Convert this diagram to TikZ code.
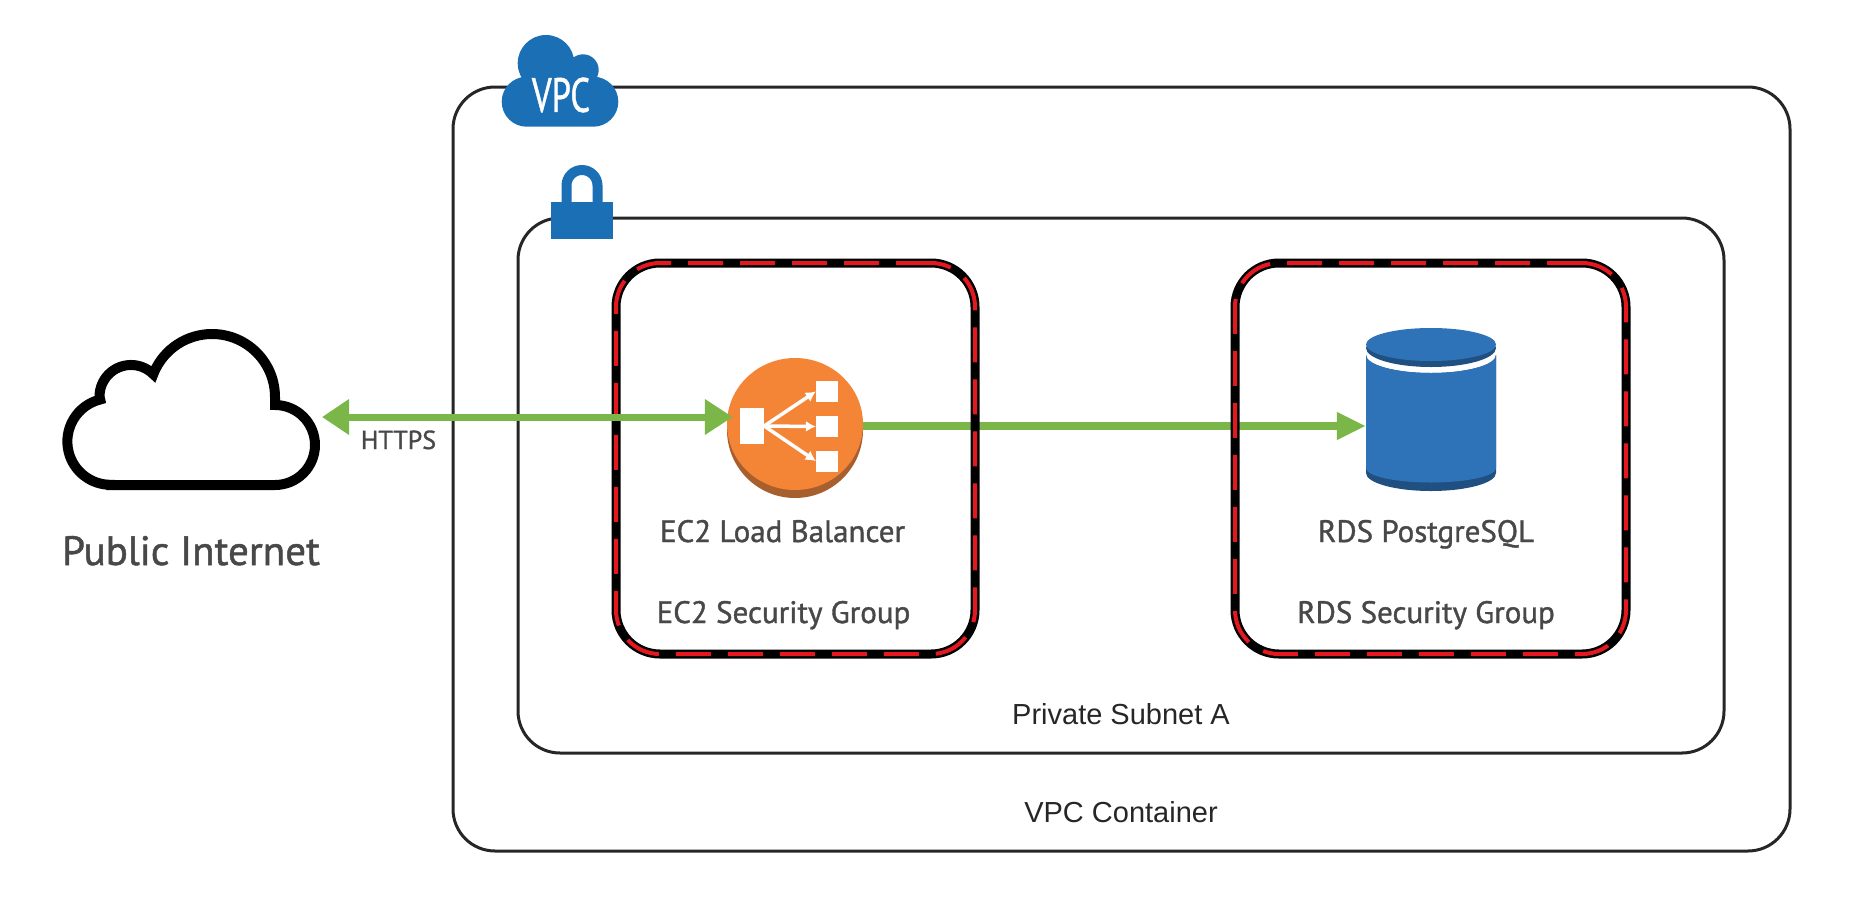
\documentclass[tikz,border=0pt]{standalone}
\usepackage{fontspec}
\setmainfont{Liberation Sans}
\newfontfamily\dinfont[FakeBold=1.2]{PT Sans}
\usepackage{xcolor}
\usetikzlibrary{arrows.meta}
\usetikzlibrary{positioning}
\definecolor{flowgreen}{HTML}{7AB648}
\definecolor{awsblue}{HTML}{1A6FB5}
\definecolor{dbblue}{HTML}{2E73B8}
\definecolor{dbdark}{HTML}{205081}
\definecolor{lborange}{HTML}{F58536}
\definecolor{lbbrown}{HTML}{A85F2E}
\definecolor{sgred}{HTML}{E3191F}
\definecolor{labelgray}{HTML}{484848}

\tikzset{
    regionbox/.style={draw=black!85, line width=3pt, rounded corners=42pt, inner sep=0pt},
    sgbox/.style={draw=black, line width=9pt, rounded corners=44pt, inner sep=0pt,
        postaction={draw=sgred, line width=4pt, dash pattern=on 35pt off 17pt}},
    flow/.style={draw=flowgreen, line width=7pt},
    iconbox/.style={fill=white, inner sep=0pt},
    iconarrow/.style={draw=white, line width=3.5pt, -{Latex[length=10pt,width=11pt]}},
    dinlabel/.style={font=\dinfont, text=labelgray, anchor=base, inner sep=0pt},
    plainlabel/.style={font=\fontsize{29}{29}\selectfont, text=black!85, anchor=base, inner sep=0pt},
}

\begin{document}
\begin{tikzpicture}[x=1pt, y=-1pt]
    \useasboundingbox (0,0) rectangle (1874,913);

    \node[regionbox, minimum width=1337pt, minimum height=764pt] (vpcbox) at (1121.5,469) {};
    \node[regionbox, minimum width=1206pt, minimum height=535pt] (subnetbox) at (1121,485.5) {};

    % vpc cloud badge
    \fill[awsblue] (526.7,101.7) circle[radius=25pt] (593.3,101.7) circle[radius=25pt]
        (546,63.3) circle[radius=28.3pt] (583,70) circle[radius=15.7pt]
        (526.7,76.7) rectangle (593.3,126.7);
    \node[font=\dinfont\fontsize{48}{48}\selectfont, text=white, xscale=0.72, inner sep=0pt] (vpcmark) at (561,95) {VPC};

    % subnet lock
    \draw[awsblue, line width=10pt] (566.5,205) -- (566.5,185.5) arc[start angle=180, end angle=0, radius=15.5pt] -- (597.5,205);
    \fill[awsblue] (551,202) rectangle (613,239);

    % public internet cloud
    \draw[black, line width=10pt, fill=white] (110.7,485) -- (275,485) arc[start angle=-90, end angle=90, radius=40pt]
        -- (275,397) arc[start angle=0, end angle=157, radius=63pt]
        -- (153.3,374.2) arc[start angle=45, end angle=180, radius=31.5pt]
        -- (100.2,399.5) arc[start angle=104, end angle=270, radius=43.3pt] -- cycle;
    \coordinate (inet) at (322,417);

    % load balancer
    \fill[lbbrown] (795,430) circle[radius=68pt];
    \fill[lborange] (795,424) ellipse[x radius=68pt, y radius=66pt];
    \node[circle, minimum size=136pt, inner sep=0pt] (lb) at (795,426) {};
    \node[iconbox, minimum width=24pt, minimum height=36pt] (lbsrc) at (752,426) {};
    \node[iconbox, minimum width=22pt, minimum height=21pt] (lbtop) at (827,391.5) {};
    \node[iconbox, minimum width=22pt, minimum height=21pt] (lbmid) at (827,426.5) {};
    \node[iconbox, minimum width=22pt, minimum height=21pt] (lbbot) at (827,461) {};
    \draw[iconarrow] (lbsrc.east) -- (lbtop.west);
    \draw[iconarrow] (lbsrc.east) -- (lbmid.west);
    \draw[iconarrow] (lbsrc.east) -- (lbbot.west);

    % database
    \fill[dbdark] (1366,355) arc[start angle=180, end angle=360, x radius=65pt, y radius=18pt]
        -- (1496,473) arc[start angle=0, end angle=-180, x radius=65pt, y radius=18pt] -- cycle;
    \fill[dbblue] (1366,355) arc[start angle=180, end angle=360, x radius=65pt, y radius=18pt]
        -- (1496,468) arc[start angle=0, end angle=-180, x radius=65pt, y radius=14.5pt] -- cycle;
    \fill[dbdark] (1431,348) ellipse[x radius=65pt, y radius=19pt];
    \fill[dbblue] (1431,344.5) ellipse[x radius=65pt, y radius=16.5pt];
    \node[minimum width=130pt, minimum height=130pt, inner sep=0pt] (db) at (1431,426) {};

    \draw[flow, line width=8pt, -{Triangle[length=29pt,width=26pt]}] (lb.east) -- (db.west);

    \node[sgbox, minimum width=359pt, minimum height=391pt] (ec2group) at (795.5,458.5) {};
    \node[sgbox, minimum width=391pt, minimum height=391pt] (rdsgroup) at (1430.5,458.5) {};

    \draw[flow, {Triangle[length=27pt,width=34pt]}-{Triangle[length=28pt,width=34pt]}] (inet) -- ([shift={(6pt,9pt)}]lb.west);

    \node[dinlabel, font=\dinfont\fontsize{41}{41}\selectfont] (inetlabel) at (191,565) {Public Internet};
    \node[dinlabel, font=\dinfont\fontsize{26}{26}\selectfont] (httpslabel) at (398.5,449) {HTTPS};
    \node[dinlabel, font=\dinfont\fontsize{31}{31}\selectfont] (lblabel) at (782.5,542) {EC2 Load Balancer};
    \node[dinlabel, font=\dinfont\fontsize{31}{31}\selectfont] (ec2label) at (783.5,623) {EC2 Security Group};
    \node[dinlabel, font=\dinfont\fontsize{31}{31}\selectfont] (dblabel) at (1426,542) {RDS PostgreSQL};
    \node[dinlabel, font=\dinfont\fontsize{31}{31}\selectfont] (rdslabel) at (1426,623) {RDS Security Group};
    \node[plainlabel] (subnetlabel) at (1121,724) {Private Subnet A};
    \node[plainlabel] (vpclabel) at (1121,822) {VPC Container};
\end{tikzpicture}
\end{document}
